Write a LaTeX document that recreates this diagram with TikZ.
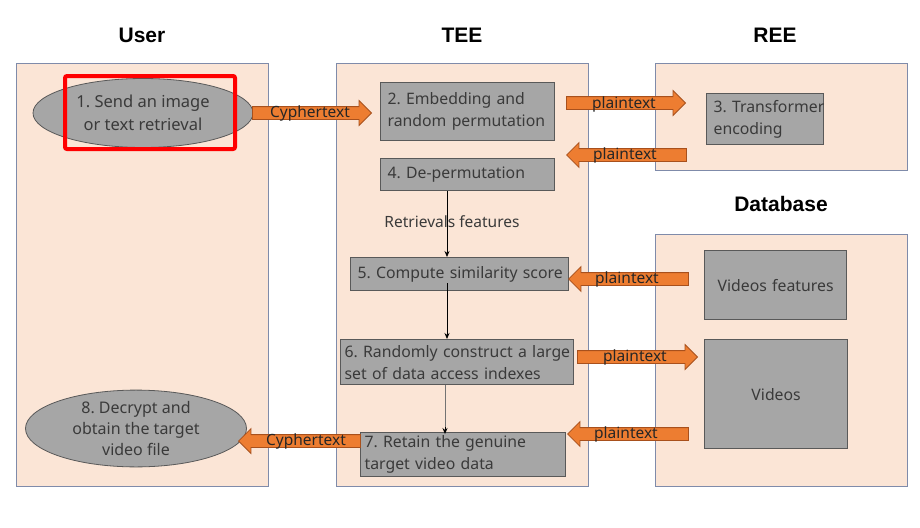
\documentclass[tikz,border=0pt]{standalone}
\usepackage{fontspec}
\setmainfont{Noto Sans}
\newfontfamily\ttlfont{Liberation Sans}
\frenchspacing
\usetikzlibrary{shapes.geometric,shapes.arrows,arrows.meta,calc}
\definecolor{panelfill}{HTML}{FBE5D6}
\definecolor{paneledge}{HTML}{7F8BAA}
\definecolor{boxfill}{HTML}{A6A6A6}
\definecolor{boxedge}{HTML}{595959}
\definecolor{orfill}{HTML}{ED7D31}
\definecolor{oredge}{HTML}{A8501C}
\definecolor{txt}{HTML}{3A3A3A}
\tikzset{
  panel/.style={draw=paneledge, fill=panelfill, line width=1.2pt, anchor=north west, inner sep=0pt},
  box/.style={draw=boxedge, fill=boxfill, line width=1.2pt, text=txt, align=left, anchor=north west,
    inner xsep=7pt, inner ysep=0pt, font=\fontsize{15.8}{22}\selectfont},
  ell/.style={ellipse, draw=boxedge, fill=boxfill, line width=0.8pt, align=center, inner sep=0pt,
    text=txt, font=\fontsize{16.5}{22.5}\selectfont},
  ttl/.style={font=\ttlfont\bfseries\fontsize{21}{25}\selectfont, text=black},
  lab/.style={font=\fontsize{15.5}{18}\selectfont, text=txt, inner sep=0pt},
  alab/.style={font=\fontsize{15.5}{18}\selectfont, text=black!85, inner sep=0pt},
  conn/.style={line width=0.8pt, -{Stealth[length=6pt,width=5pt]}},
  barrow/.style={single arrow, draw=oredge, fill=orfill, line width=0.8pt, minimum height=#1,
    single arrow head extend=6pt, inner xsep=0pt, inner ysep=6pt, single arrow tip angle=90,
    single arrow head indent=0pt, anchor=tip},
  barrowL/.style={barrow=#1, shape border rotate=180},
}
\begin{document}
\begin{tikzpicture}[x=1pt,y=-1pt]
\useasboundingbox (0,0) rectangle (920,527);
% panels
\node[panel, minimum width=252, minimum height=423] (user) at (16,63) {};
\node[panel, minimum width=252, minimum height=423] (tee) at (336,63) {};
\node[panel, minimum width=252, minimum height=107] (ree) at (655,63) {};
\node[panel, minimum width=252, minimum height=252] (db) at (655,234) {};
% titles
\node[ttl] (tuser) at (142,35) {User};
\node[ttl] (ttee) at (462,35) {TEE};
\node[ttl] (tree) at (775,35) {REE};
\node[ttl] (tdb) at (781,204) {Database};
% user nodes
\node[ell, minimum width=220, minimum height=69] (e1) at (143,113) {1. Send an image\\or text retrieval};
\node[draw=red, line width=4pt, rounded corners=2pt, minimum width=170, minimum height=73, inner sep=0pt] (hl) at (150,112.5) {};
\node[ell, minimum width=221, minimum height=70, font=\fontsize{16}{21}\selectfont] (e8) at (136,428.5) {8. Decrypt and\\obtain the target\\video file};
% TEE boxes
\node[box, text width=160, minimum height=58] (b2) at (380,82) {\mbox{2. Embedding and}\\\mbox{random permutation}};
\node[box, text width=160, minimum height=32] (b4) at (380,158) {\mbox{4. De-permutation}};
\node[box, text width=204, minimum height=33] (b5) at (350,257) {\mbox{5. Compute similarity score}};
\node[box, inner xsep=4pt, text width=225, minimum height=45] (b6) at (340,339) {\mbox{6. Randomly construct a large}\\\mbox{set of data access indexes}};
\node[box, inner xsep=4pt, text width=197, minimum height=44] (b7) at (360,432) {\mbox{7. Retain the genuine}\\\mbox{target video data}};
% REE box
\node[box, text width=103, minimum height=51] (b3) at (706,93) {\mbox{3. Transformer}\\\mbox{encoding}};
% DB boxes
\node[box, align=center, text width=128, minimum height=69] (vf) at (704,250) {Videos features};
\node[box, align=center, text width=129, minimum height=109] (vid) at (704,339) {Videos};
% vertical connectors
\coordinate (cx) at (447,0);
\coordinate (cx2) at (445,0);
\draw[conn] (b4.south -| cx) -- (b5.north -| cx);
\node[lab] (rf) at (452,222) {Retrievals features};
\draw[conn] ($(b5.south -| cx)+(0,-8)$) -- (b6.north -| cx);
\draw[line width=0.8pt, draw=black!55] (b6.south -| cx2) -- ($(b7.north -| cx2)+(0,-4)$);
\draw[conn] ($(b7.north -| cx2)+(0,-5)$) -- ($(b7.north -| cx2)+(0,2)$);
% block arrows
\node[barrow=119] (ac1) at (372,113) {};
\node[alab] at (310,113) {Cyphertext};
\node[barrow=119] (ap1) at (686,103) {};
\node[alab] at (624,104) {plaintext};
\node[barrowL=120] (ap2) at (566,155) {};
\node[alab] at (625,155) {plaintext};
\node[barrowL=120] (ap3) at (568,279) {};
\node[alab] at (627,279) {plaintext};
\node[barrow=120] (ap4) at (698,357) {};
\node[alab] at (635,357) {plaintext};
\node[barrowL=121] (ap5) at (567,434) {};
\node[alab] at (626,434) {plaintext};
\node[barrowL=122] (ac2) at (238,441) {};
\node[alab] at (306,441) {Cyphertext};
\end{tikzpicture}
\end{document}
